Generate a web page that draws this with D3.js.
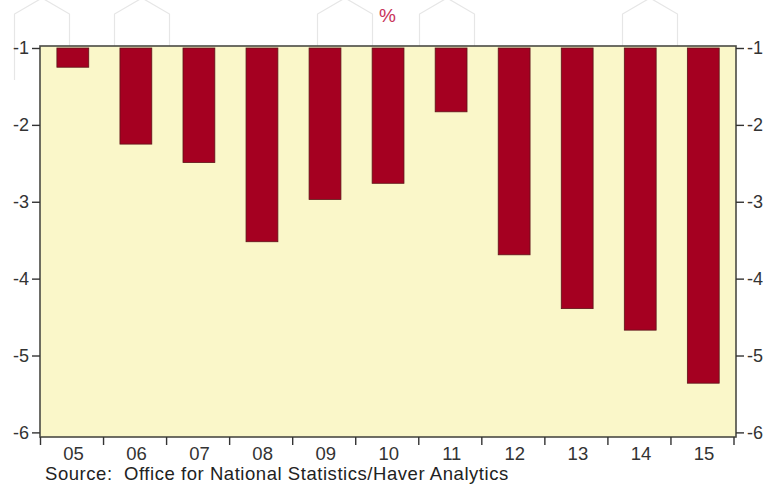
<!DOCTYPE html>
<html>
<head>
<meta charset="utf-8">
<script src="https://cdn.jsdelivr.net/npm/d3@7"></script>
<style>
  html, body { margin: 0; padding: 0; background: #ffffff; }
  svg { display: block; font-family: "Liberation Sans", Arial, sans-serif; }
</style>
</head>
<body>
<svg id="chart" width="763" height="484"></svg>
<script>
// Annual values, percent
const years = ["05", "06", "07", "08", "09", "10", "11", "12", "13", "14", "15"];
const values = [-1.25, -2.25, -2.49, -3.52, -2.97, -2.76, -1.83, -3.69, -4.39, -4.67, -5.36];
const yTicks = [-1, -2, -3, -4, -5, -6];
const unitLabel = "%";
const sourceText = "Source:  Office for National Statistics/Haver Analytics";

const svg = d3.select("#chart");
const plot = { left: 40, right: 736, top: 46, bottom: 437 };

// faint hexagon pattern behind the top of the chart
const hexCenters = [42, 142, 345, 447, 650];
const hexG = svg.append("g").attr("fill", "none").attr("stroke", "#e6e6e6").attr("stroke-width", 1.2);
hexCenters.forEach(cx => {
  const hw = 27.5;
  const pts = [[cx - hw, 80], [cx - hw, 14], [cx, -2], [cx + hw, 14], [cx + hw, 80]];
  hexG.append("path").attr("d", d3.line()(pts));
});

const x = d3.scaleBand().domain(years).range([40.5, 734]).paddingInner(0).paddingOuter(0);
const y = d3.scaleLinear().domain([-0.974, -6.06]).range([plot.top, plot.bottom]);

// plot background
svg.append("rect")
  .attr("x", plot.left).attr("y", plot.top)
  .attr("width", plot.right - plot.left).attr("height", plot.bottom - plot.top)
  .attr("fill", "#faf7c9");

// bars hang down from -1
const barW = x.bandwidth() * 0.505;
svg.append("g").selectAll("rect").data(values).join("rect")
  .attr("x", (d, i) => x(years[i]) + x.bandwidth() / 2 - barW / 2 + 0.8)
  .attr("y", y(-1))
  .attr("width", barW)
  .attr("height", d => y(d) - y(-1))
  .attr("fill", "#a50021")
  .attr("stroke", "#5c1418")
  .attr("stroke-width", 0.8);

// frame
svg.append("rect")
  .attr("x", plot.left).attr("y", plot.top)
  .attr("width", plot.right - plot.left).attr("height", plot.bottom - plot.top)
  .attr("fill", "none").attr("stroke", "#4a4a44").attr("stroke-width", 1.6);

// left and right value axes, plain hyphen for the sign
const fmt = d => String(d);
const yAxisL = d3.axisLeft(y).tickValues(yTicks).tickFormat(fmt).tickSize(8).tickPadding(3);
const yAxisR = d3.axisRight(y).tickValues(yTicks).tickFormat(fmt).tickSize(8).tickPadding(3);
const gl = svg.append("g").attr("transform", `translate(${plot.left},0)`).call(yAxisL);
const gr = svg.append("g").attr("transform", `translate(${plot.right},0)`).call(yAxisR);
[gl, gr].forEach(g => {
  g.select(".domain").remove();
  g.selectAll("line").attr("stroke", "#333").attr("stroke-width", 1.4);
  g.selectAll("text").attr("font-size", 18).attr("fill", "#333")
    .attr("font-family", "Liberation Sans, Arial, sans-serif");
});

// year axis: ticks on the band boundaries, labels centred in each band
const boundaries = years.map(d => x(d)).concat([x(years[years.length - 1]) + x.bandwidth()]);
const xg = svg.append("g");
xg.selectAll("line").data(boundaries).join("line")
  .attr("x1", d => d).attr("x2", d => d)
  .attr("y1", plot.bottom).attr("y2", plot.bottom + 8)
  .attr("stroke", "#333").attr("stroke-width", 1.4);
xg.selectAll("text").data(years).join("text")
  .attr("x", d => x(d) + x.bandwidth() / 2 + 1.5)
  .attr("y", 459.5)
  .attr("text-anchor", "middle")
  .attr("font-size", 18.5)
  .attr("fill", "#333")
  .text(d => d);

// unit label
svg.append("text")
  .attr("x", 387.5).attr("y", 22)
  .attr("text-anchor", "middle")
  .attr("font-size", 19)
  .attr("fill", "#c8325a")
  .text(unitLabel);

// source note
svg.append("text")
  .attr("x", 45).attr("y", 479.5)
  .attr("font-size", 18.5)
  .attr("letter-spacing", 0.55)
  .attr("fill", "#222")
  .attr("xml:space", "preserve")
  .style("white-space", "pre")
  .text(sourceText);
</script>
</body>
</html>
